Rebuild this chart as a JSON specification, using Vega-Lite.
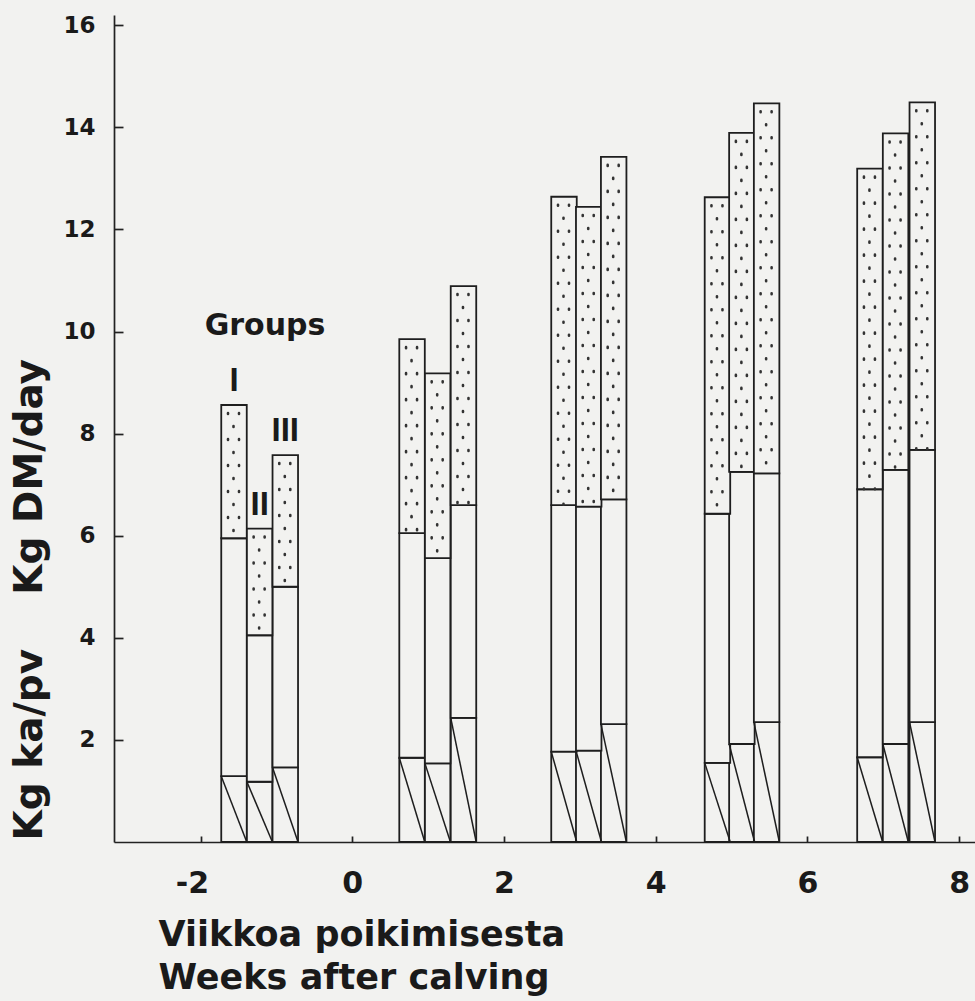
{
  "$schema": "https://vega.github.io/schema/vega-lite/v6.json",
  "width": 861,
  "height": 827,
  "autosize": {"type": "none"},
  "padding": {"left": 114, "top": 15, "right": 0, "bottom": 159},
  "background": "#f2f2f0",
  "config": {
    "view": {"stroke": null},
    "axis": {
      "grid": false,
      "domainColor": "#222222",
      "tickColor": "#222222",
      "domainWidth": 1.7,
      "tickWidth": 1.7,
      "labelColor": "#1a1a1a",
      "titleColor": "#1a1a1a",
      "labelFont": "DejaVu Sans",
      "titleFont": "DejaVu Sans",
      "labelFontWeight": "bold",
      "titleFontWeight": "bold",
      "labelFlush": false,
      "labelOverlap": false,
      "labelBound": false
    }
  },
  "data": {
    "values": [
      {"week": -1.559, "group": "I", "seg1": 1.29, "seg2": 5.95, "total": 8.56},
      {"week": -1.221, "group": "II", "seg1": 1.18, "seg2": 4.05, "total": 6.14},
      {"week": -0.883, "group": "III", "seg1": 1.46, "seg2": 5.0, "total": 7.58},
      {"week": 0.788, "group": "I", "seg1": 1.65, "seg2": 6.05, "total": 9.85},
      {"week": 1.126, "group": "II", "seg1": 1.54, "seg2": 5.56, "total": 9.18},
      {"week": 1.466, "group": "III", "seg1": 2.43, "seg2": 6.6, "total": 10.89},
      {"week": 2.791, "group": "I", "seg1": 1.77, "seg2": 6.6, "total": 12.64},
      {"week": 3.117, "group": "II", "seg1": 1.79, "seg2": 6.57, "total": 12.44},
      {"week": 3.446, "group": "III", "seg1": 2.31, "seg2": 6.71, "total": 13.42},
      {"week": 4.814, "group": "I", "seg1": 1.55, "seg2": 6.43, "total": 12.63},
      {"week": 5.136, "group": "II", "seg1": 1.92, "seg2": 7.25, "total": 13.89},
      {"week": 5.462, "group": "III", "seg1": 2.35, "seg2": 7.22, "total": 14.47},
      {"week": 6.824, "group": "I", "seg1": 1.66, "seg2": 6.91, "total": 13.19},
      {"week": 7.162, "group": "II", "seg1": 1.92, "seg2": 7.29, "total": 13.88},
      {"week": 7.514, "group": "III", "seg1": 2.35, "seg2": 7.68, "total": 14.49}
    ]
  },
  "encoding": {
    "x": {
      "field": "week",
      "type": "quantitative",
      "scale": {"domain": [-3.075, 8.143], "nice": false, "zero": false},
      "axis": {
        "values": [-2, 0, 2, 4, 6, 8],
        "labelExpr": "replace(datum.label, '−', '-')",
        "labelAlign": {"expr": "datum.value < 0 ? 'right' : 'center'"},
        "labelOffset": {"expr": "datum.value < 0 ? 8 : 0"},
        "title": ["Viikkoa poikimisesta", "Weeks after calving"],
        "tickSize": -6,
        "labelPadding": 32,
        "labelFontSize": 30,
        "titleFontSize": 35,
        "titleAlign": "left",
        "titleAnchor": "start",
        "titleX": 44,
        "titleY": 103,
        "titleBaseline": "alphabetic",
        "titleLineHeight": 43
      }
    }
  },
  "layer": [
    {
      "mark": {"type": "bar", "width": 25.5, "fill": "#f2f2f0", "stroke": "#1e1e1e", "strokeWidth": 1.8},
      "encoding": {
        "y": {
          "field": "seg1",
          "type": "quantitative",
          "scale": {"domain": [0, 16.2], "nice": false},
          "axis": {
            "values": [2, 4, 6, 8, 10, 12, 14, 16],
            "title": "Kg ka/pv\u00a0\u00a0\u00a0\u00a0Kg DM/day",
            "tickSize": -9,
            "labelPadding": 28,
            "labelFontSize": 23,
            "titleFontSize": 39,
            "titleAngle": -90,
            "titleAlign": "left",
            "titleBaseline": "middle",
            "titleX": -85,
            "titleY": 825
          }
        },
        "y2": {"datum": 0}
      }
    },
    {
      "mark": {"type": "bar", "width": 25.5, "fill": "#f2f2f0", "stroke": "#1e1e1e", "strokeWidth": 1.8},
      "encoding": {
        "y": {"field": "seg2", "type": "quantitative"},
        "y2": {"field": "seg1"}
      }
    },
    {
      "mark": {"type": "bar", "width": 25.5, "fill": "#f2f2f0", "stroke": "#1e1e1e", "strokeWidth": 1.8},
      "encoding": {
        "y": {"field": "total", "type": "quantitative"},
        "y2": {"field": "seg2"}
      }
    },
    {
      "mark": {"type": "rule", "xOffset": -6, "strokeDash": [1, 25], "strokeDashOffset": 18, "strokeWidth": 2.6, "strokeCap": "round", "color": "#333333"},
      "encoding": {
        "y": {"field": "total", "type": "quantitative"},
        "y2": {"field": "seg2"}
      }
    },
    {
      "mark": {"type": "rule", "xOffset": 5, "strokeDash": [1, 25], "strokeDashOffset": 18, "strokeWidth": 2.6, "strokeCap": "round", "color": "#333333"},
      "encoding": {
        "y": {"field": "total", "type": "quantitative"},
        "y2": {"field": "seg2"}
      }
    },
    {
      "mark": {"type": "rule", "xOffset": -0.5, "strokeDash": [1, 25], "strokeDashOffset": 5, "strokeWidth": 2.6, "strokeCap": "round", "color": "#333333"},
      "encoding": {
        "y": {"field": "total", "type": "quantitative"},
        "y2": {"field": "seg2"}
      }
    },
    {
      "mark": {"type": "rule", "xOffset": -12.75, "x2Offset": 12.75, "strokeWidth": 1.5, "color": "#1e1e1e"},
      "encoding": {
        "x2": {"field": "week"},
        "y": {"field": "seg1", "type": "quantitative"},
        "y2": {"datum": 0}
      }
    },
    {
      "transform": [{"filter": "datum.week < 0"}],
      "mark": {"type": "text", "font": "Liberation Sans", "fontWeight": "bold", "fontSize": 33, "baseline": "alphabetic", "align": "center", "dy": -14, "color": "#1a1a1a"},
      "encoding": {
        "y": {"field": "total", "type": "quantitative"},
        "text": {"field": "group"}
      }
    },
    {
      "data": {"values": [{"label": "Groups", "week": -1.15, "total": 9.93}]},
      "mark": {"type": "text", "font": "DejaVu Sans", "fontWeight": "bold", "fontSize": 30, "baseline": "alphabetic", "align": "center", "color": "#1a1a1a"},
      "encoding": {
        "y": {"field": "total", "type": "quantitative"},
        "text": {"field": "label"}
      }
    }
  ]
}
